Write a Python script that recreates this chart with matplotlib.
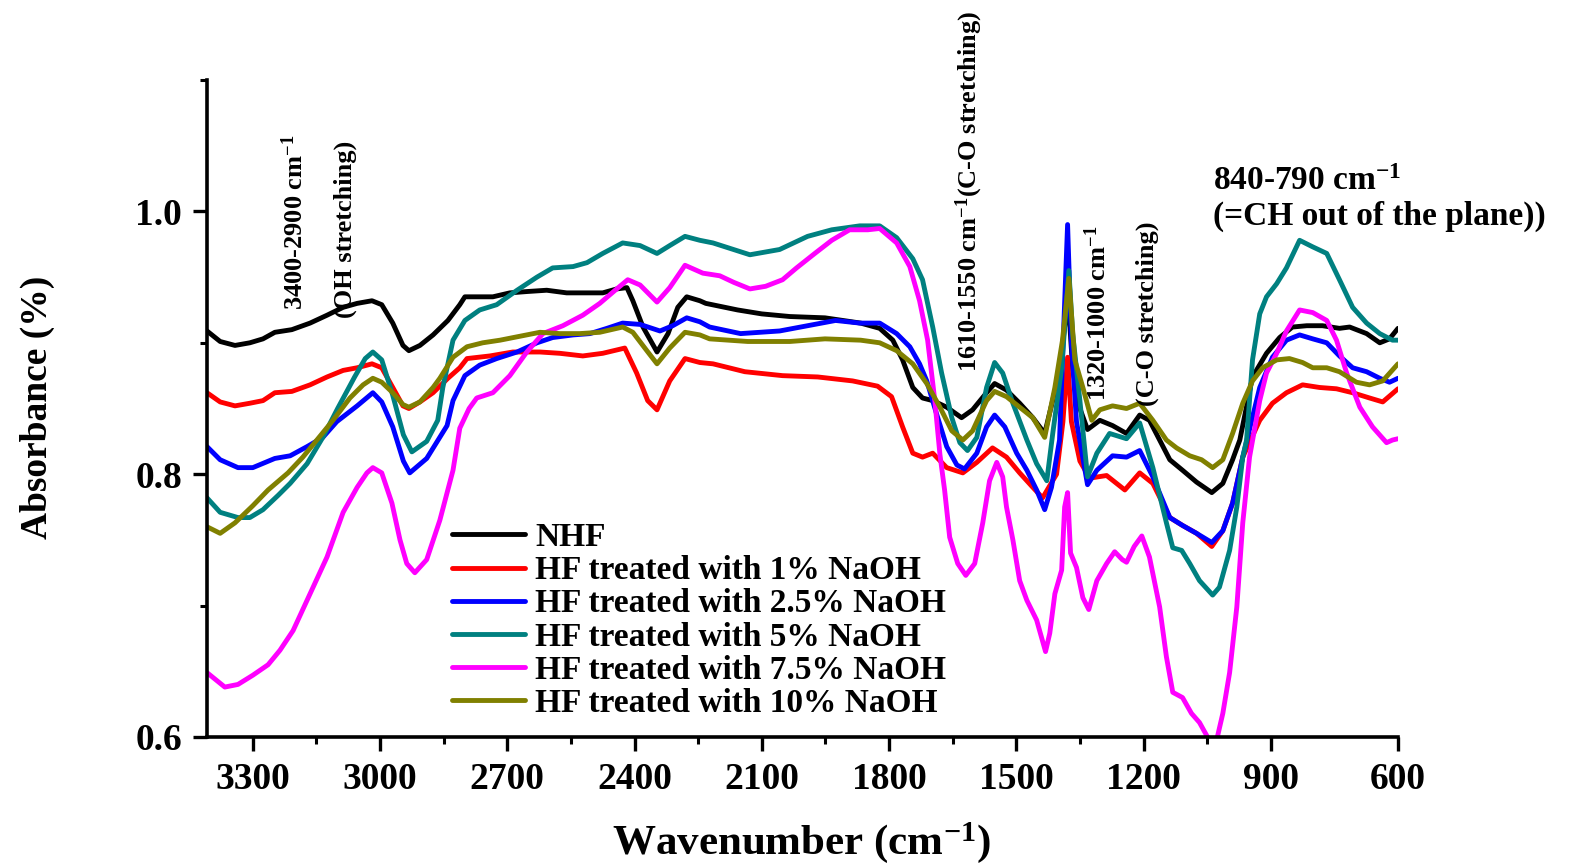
import matplotlib
matplotlib.use("Agg")
import matplotlib.pyplot as plt
from matplotlib.ticker import FixedLocator, FormatStrFormatter
from matplotlib.font_manager import FontProperties

plt.rcParams["font.family"] = ["Liberation Serif", "DejaVu Serif"]
plt.rcParams["font.weight"] = "bold"
plt.rcParams["mathtext.fontset"] = "custom"
plt.rcParams["mathtext.rm"] = "Liberation Serif:bold"
plt.rcParams["mathtext.bf"] = "Liberation Serif:bold"
plt.rcParams["mathtext.it"] = "Liberation Serif:bold:italic"
plt.rcParams["mathtext.default"] = "rm"

# ---- spectra: wavenumber (cm-1) and absorbance for each sample ----
wn_nhf = [3408, 3377, 3342, 3307, 3276, 3248, 3208, 3165, 3125, 3087, 3054, 3019, 2996, 2970,
          2946, 2932, 2906, 2875, 2840, 2812, 2800, 2765, 2734, 2694, 2654, 2607, 2560, 2522,
          2475, 2442, 2418, 2404, 2380, 2347, 2321, 2298, 2277, 2246, 2232, 2157, 2100, 2034,
          1951, 1867, 1822, 1791, 1768, 1744, 1721, 1697, 1664, 1629, 1603, 1570, 1551, 1523,
          1492, 1461, 1433, 1415, 1398, 1378, 1367, 1350, 1332, 1303, 1273, 1240, 1209, 1186,
          1162, 1138, 1108, 1075, 1039, 1013, 990, 973, 943, 910, 879, 849, 815, 778, 738, 714,
          674, 643, 620, 600]
ab_nhf = [0.909, 0.901, 0.898, 0.900, 0.903, 0.908, 0.910, 0.915, 0.921, 0.927, 0.930, 0.932,
          0.929, 0.915, 0.898, 0.894, 0.898, 0.906, 0.917, 0.929, 0.935, 0.935, 0.935, 0.938,
          0.939, 0.940, 0.938, 0.938, 0.938, 0.941, 0.942, 0.932, 0.912, 0.893, 0.907, 0.927,
          0.935, 0.932, 0.930, 0.925, 0.922, 0.920, 0.919, 0.915, 0.911, 0.902, 0.887, 0.866,
          0.858, 0.856, 0.851, 0.843, 0.849, 0.862, 0.869, 0.864, 0.854, 0.843, 0.831, 0.855,
          0.878, 0.935, 0.880, 0.850, 0.834, 0.841, 0.837, 0.831, 0.845, 0.841, 0.826, 0.811,
          0.803, 0.794, 0.786, 0.793, 0.811, 0.826, 0.874, 0.892, 0.904, 0.912, 0.913, 0.913,
          0.911, 0.912, 0.907, 0.900, 0.903, 0.911]

wn_1 = [3408, 3377, 3342, 3307, 3276, 3248, 3208, 3165, 3125, 3087, 3054, 3019, 2996, 2970,
        2946, 2932, 2906, 2875, 2840, 2812, 2795, 2741, 2687, 2623, 2576, 2522, 2475, 2423,
        2395, 2369, 2347, 2317, 2281, 2246, 2215, 2140, 2051, 1968, 1886, 1827, 1794, 1768,
        1744, 1721, 1697, 1664, 1626, 1593, 1556, 1523, 1492, 1461, 1438, 1405, 1390, 1379,
        1370, 1350, 1327, 1287, 1244, 1209, 1178, 1138, 1108, 1075, 1039, 1013, 990, 966, 926,
        896, 863, 825, 785, 745, 707, 667, 636, 600]
ab_1 = [0.862, 0.855, 0.852, 0.854, 0.856, 0.862, 0.863, 0.868, 0.874, 0.879, 0.881, 0.884,
        0.881, 0.866, 0.852, 0.850, 0.855, 0.862, 0.873, 0.881, 0.888, 0.890, 0.893, 0.893,
        0.892, 0.890, 0.892, 0.896, 0.877, 0.856, 0.849, 0.871, 0.888, 0.885, 0.884, 0.878,
        0.875, 0.874, 0.871, 0.867, 0.859, 0.836, 0.816, 0.813, 0.816, 0.805, 0.801, 0.809,
        0.820, 0.813, 0.801, 0.790, 0.782, 0.800, 0.840, 0.889, 0.840, 0.810, 0.797, 0.799,
        0.788, 0.801, 0.793, 0.767, 0.761, 0.755, 0.745, 0.757, 0.778, 0.813, 0.841, 0.854,
        0.862, 0.868, 0.866, 0.865, 0.862, 0.858, 0.855, 0.865]

wn_2_5 = [3408, 3377, 3335, 3300, 3248, 3212, 3172, 3135, 3102, 3054, 3017, 2996, 2970, 2945,
          2930, 2890, 2842, 2828, 2800, 2765, 2725, 2677, 2630, 2593, 2545, 2505, 2465, 2428,
          2387, 2340, 2310, 2277, 2246, 2223, 2150, 2058, 1992, 1926, 1869, 1822, 1782, 1751,
          1728, 1711, 1688, 1664, 1640, 1622, 1593, 1570, 1551, 1527, 1499, 1475, 1452, 1433,
          1417, 1398, 1386, 1379, 1370, 1358, 1332, 1310, 1273, 1240, 1209, 1178, 1138, 1108,
          1075, 1039, 1013, 990, 966, 926, 896, 863, 832, 801, 768, 738, 707, 674, 643, 620, 600]
ab_2_5 = [0.821, 0.811, 0.805, 0.805, 0.812, 0.814, 0.821, 0.828, 0.840, 0.852, 0.862, 0.855,
          0.836, 0.810, 0.801, 0.812, 0.837, 0.856, 0.875, 0.883, 0.888, 0.893, 0.900, 0.904,
          0.906, 0.907, 0.911, 0.915, 0.914, 0.909, 0.913, 0.919, 0.916, 0.912, 0.907, 0.909,
          0.913, 0.917, 0.915, 0.915, 0.907, 0.897, 0.884, 0.871, 0.846, 0.821, 0.807, 0.804,
          0.816, 0.836, 0.845, 0.836, 0.816, 0.803, 0.788, 0.773, 0.790, 0.826, 0.930, 0.990,
          0.900, 0.840, 0.792, 0.803, 0.814, 0.813, 0.818, 0.798, 0.767, 0.761, 0.755, 0.748,
          0.757, 0.778, 0.813, 0.866, 0.889, 0.902, 0.906, 0.903, 0.900, 0.890, 0.881, 0.878,
          0.873, 0.870, 0.873]

wn_5 = [3408, 3377, 3335, 3307, 3276, 3240, 3212, 3172, 3135, 3100, 3060, 3035, 3017, 2996,
        2970, 2945, 2925, 2890, 2864, 2852, 2828, 2800, 2765, 2725, 2677, 2630, 2593, 2545,
        2512, 2475, 2428, 2387, 2347, 2317, 2281, 2246, 2215, 2128, 2058, 1992, 1935, 1869,
        1822, 1782, 1744, 1721, 1697, 1676, 1652, 1633, 1615, 1593, 1570, 1551, 1532, 1508,
        1475, 1452, 1428, 1414, 1393, 1376, 1367, 1350, 1332, 1310, 1280, 1240, 1209, 1178,
        1146, 1131, 1110, 1091, 1068, 1037, 1021, 997, 980, 966, 957, 943, 926, 910, 886, 863,
        832, 801, 768, 738, 707, 674, 643, 613, 600]
ab_5 = [0.782, 0.771, 0.767, 0.767, 0.773, 0.784, 0.793, 0.808, 0.828, 0.850, 0.874, 0.888,
        0.893, 0.887, 0.860, 0.830, 0.817, 0.825, 0.841, 0.866, 0.902, 0.917, 0.925, 0.929,
        0.940, 0.950, 0.957, 0.958, 0.961, 0.968, 0.976, 0.974, 0.968, 0.974, 0.981, 0.978,
        0.976, 0.967, 0.971, 0.981, 0.986, 0.989, 0.989, 0.980, 0.964, 0.948, 0.912, 0.877,
        0.843, 0.824, 0.818, 0.828, 0.866, 0.885, 0.877, 0.854, 0.826, 0.808, 0.795, 0.831,
        0.881, 0.955, 0.907, 0.856, 0.798, 0.816, 0.831, 0.827, 0.839, 0.805, 0.763, 0.744,
        0.742, 0.732, 0.719, 0.708, 0.714, 0.742, 0.775, 0.813, 0.826, 0.887, 0.922, 0.935,
        0.945, 0.957, 0.978, 0.973, 0.968, 0.948, 0.927, 0.915, 0.907, 0.902, 0.902]

wn_7_5 = [3408, 3366, 3335, 3300, 3264, 3236, 3205, 3165, 3125, 3087, 3054, 3031, 3017, 2996,
          2972, 2953, 2937, 2918, 2890, 2859, 2828, 2812, 2790, 2772, 2734, 2694, 2654, 2616,
          2569, 2522, 2482, 2442, 2416, 2387, 2347, 2317, 2281, 2239, 2199, 2166, 2128, 2091,
          2051, 2018, 1975, 1935, 1893, 1850, 1822, 1782, 1751, 1728, 1709, 1692, 1680, 1669,
          1657, 1638, 1619, 1598, 1579, 1563, 1546, 1532, 1523, 1508, 1492, 1475, 1452, 1431,
          1421, 1409, 1393, 1386, 1379, 1372, 1358, 1343, 1329, 1310, 1287, 1268, 1250, 1240,
          1222, 1204, 1186, 1162, 1146, 1131, 1108, 1087, 1068, 1044, 1028, 1013, 997, 980, 966,
          950, 926, 910, 886, 863, 832, 801, 768, 745, 721, 690, 660, 627, 613, 600]
ab_7_5 = [0.649, 0.638, 0.640, 0.647, 0.655, 0.666, 0.681, 0.709, 0.737, 0.771, 0.790, 0.801,
          0.805, 0.801, 0.778, 0.750, 0.732, 0.725, 0.735, 0.765, 0.803, 0.835, 0.850, 0.858,
          0.862, 0.875, 0.893, 0.907, 0.913, 0.921, 0.930, 0.941, 0.948, 0.944, 0.931, 0.942,
          0.959, 0.953, 0.951, 0.946, 0.941, 0.943, 0.948, 0.957, 0.968, 0.978, 0.986, 0.986,
          0.987, 0.976, 0.958, 0.932, 0.902, 0.856, 0.815, 0.788, 0.752, 0.732, 0.723, 0.732,
          0.763, 0.795, 0.809, 0.798, 0.775, 0.750, 0.719, 0.704, 0.689, 0.665, 0.679, 0.709,
          0.727, 0.775, 0.786, 0.740, 0.729, 0.706, 0.697, 0.719, 0.732, 0.741, 0.735, 0.733,
          0.745, 0.753, 0.737, 0.699, 0.661, 0.634, 0.630, 0.618, 0.611, 0.597, 0.597, 0.618,
          0.649, 0.699, 0.763, 0.813, 0.856, 0.877, 0.892, 0.909, 0.925, 0.923, 0.917, 0.902,
          0.877, 0.851, 0.836, 0.824, 0.826, 0.827]

wn_10 = [3408, 3377, 3342, 3300, 3264, 3217, 3182, 3149, 3111, 3071, 3040, 3017, 2996, 2970,
         2946, 2932, 2906, 2875, 2859, 2828, 2795, 2758, 2717, 2670, 2623, 2576, 2529, 2482,
         2428, 2404, 2371, 2347, 2317, 2281, 2246, 2223, 2133, 2034, 1951, 1867, 1822, 1782,
         1744, 1711, 1680, 1652, 1626, 1603, 1570, 1551, 1523, 1492, 1461, 1433, 1409, 1391,
         1376, 1362, 1343, 1322, 1303, 1273, 1240, 1209, 1178, 1146, 1122, 1091, 1063, 1037,
         1013, 990, 966, 943, 919, 886, 856, 825, 801, 768, 738, 698, 667, 636, 600]
ab_10 = [0.760, 0.755, 0.763, 0.776, 0.788, 0.801, 0.813, 0.826, 0.841, 0.858, 0.868, 0.873,
         0.870, 0.862, 0.853, 0.851, 0.855, 0.866, 0.873, 0.889, 0.897, 0.900, 0.902, 0.905,
         0.908, 0.907, 0.907, 0.908, 0.912, 0.908, 0.894, 0.884, 0.896, 0.908, 0.906, 0.903,
         0.901, 0.901, 0.903, 0.902, 0.900, 0.894, 0.884, 0.869, 0.851, 0.833, 0.826, 0.833,
         0.856, 0.863, 0.859, 0.851, 0.843, 0.828, 0.866, 0.902, 0.949, 0.887, 0.866, 0.841,
         0.849, 0.852, 0.850, 0.854, 0.841, 0.826, 0.820, 0.814, 0.811, 0.805, 0.811, 0.831,
         0.854, 0.871, 0.881, 0.887, 0.888, 0.885, 0.881, 0.881, 0.878, 0.870, 0.868, 0.871,
         0.884]

series = [
    ("NHF", wn_nhf, ab_nhf, "#000000"),
    ("HF treated with 1% NaOH", wn_1, ab_1, "#ff0000"),
    ("HF treated with 2.5% NaOH", wn_2_5, ab_2_5, "#0000ff"),
    ("HF treated with 5% NaOH", wn_5, ab_5, "#008080"),
    ("HF treated with 7.5% NaOH", wn_7_5, ab_7_5, "#ff00ff"),
    ("HF treated with 10% NaOH", wn_10, ab_10, "#808000"),
]

x_major = [3300, 3000, 2700, 2400, 2100, 1800, 1500, 1200, 900, 600]
y_major = [0.6, 0.8, 1.0]

W, H = 1574, 866
fig = plt.figure(figsize=(W / 100, H / 100), dpi=100)
ax = fig.add_axes([207 / W, 1 - 737 / H, (1398 - 207) / W, (737 - 80) / H])

for label, wn, ab, color in series:
    ax.plot(wn, ab, color=color, lw=3.5, label=label,
            solid_joinstyle="round", solid_capstyle="round")

ax.set_xlim(3408, 600)
ax.set_ylim(0.6, 1.1)

ax.xaxis.set_major_locator(FixedLocator(x_major))
ax.xaxis.set_minor_locator(FixedLocator([v + 150 for v in x_major[:-1]]))
ax.yaxis.set_major_locator(FixedLocator(y_major))
ax.yaxis.set_minor_locator(FixedLocator([0.7, 0.9, 1.1]))
ax.yaxis.set_major_formatter(FormatStrFormatter("%.1f"))

for s in ("top", "right"):
    ax.spines[s].set_visible(False)
for s in ("left", "bottom"):
    ax.spines[s].set_linewidth(2.6)

ax.tick_params(which="major", direction="out", length=10, width=2.4, pad=8,
               labelsize=27)
ax.tick_params(which="minor", direction="out", length=5, width=2.2)
for lab in ax.get_xticklabels() + ax.get_yticklabels():
    lab.set_fontweight("bold")

fig.text(37 / W, 1 - 407 / H, "Absorbance (%)", rotation=90, ha="center",
         va="center", fontsize=27, fontweight="bold")
fig.text(801 / W, 1 - 843 / H, "Wavenumber (cm$^{-1}$)", ha="center",
         va="center", fontsize=31, fontweight="bold")

# band assignments
rot_kw = dict(rotation=90, ha="center", va="bottom", fontsize=19,
              fontweight="bold", clip_on=False)
ax.text(3201, 0.925, "3400-2900 cm$^{-1}$", **rot_kw)
ax.text(3083, 0.919, "(OH stretching)", **rot_kw)
ax.text(1610, 0.8776, "1610-1550 cm$^{-1}$(C-O stretching)", **rot_kw)
ax.text(1308, 0.856, "1320-1000 cm$^{-1}$", **rot_kw)
ax.text(1190, 0.852, "(C-O stretching)", **rot_kw)
ax.text(1037, 1.0228, "840-790 cm$^{-1}$", ha="left", va="center",
        fontsize=24, fontweight="bold", clip_on=False)
ax.text(1037, 0.996, "(=CH out of the plane))", ha="left", va="center",
        fontsize=24, fontweight="bold", clip_on=False)

leg = ax.legend(loc="upper left", bbox_to_anchor=(452 / W, 1 - 522 / H),
                bbox_transform=fig.transFigure, frameon=False,
                prop=FontProperties(family="Liberation Serif", weight="bold", size=24),
                handlelength=2.2, handletextpad=0.3, labelspacing=0.065,
                borderpad=0, borderaxespad=0)

fig.savefig("out.png", dpi=100)
